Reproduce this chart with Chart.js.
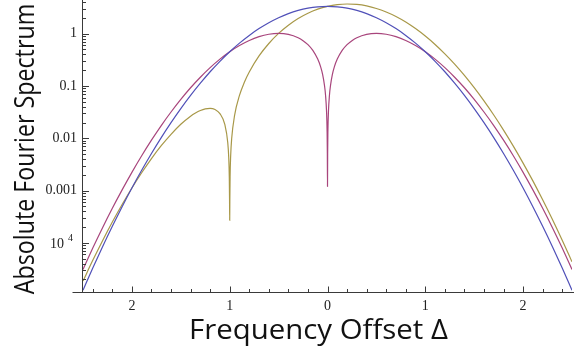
<!DOCTYPE html>
<html>
<head>
<meta charset="utf-8">
<script src="https://cdn.jsdelivr.net/npm/chart.js@4"></script>
<style>
  html, body { margin: 0; padding: 0; background: #fff; }
  #wrap { width: 574px; height: 352px; position: relative; }
</style>
</head>
<body>
<div id="wrap"><canvas id="spectrumChart"></canvas></div>
<script>
const delta = [-2.5, -2.4, -2.3, -2.2, -2.1, -2.0, -1.9, -1.8, -1.7, -1.6, -1.5, -1.4, -1.3, -1.2, -1.1,
  -1.0, -0.9, -0.8, -0.7, -0.6, -0.5, -0.4, -0.3, -0.2, -0.1, 0, 0.1, 0.2, 0.3, 0.4, 0.5, 0.6, 0.7,
  0.8, 0.9, 1.0, 1.1, 1.2, 1.3, 1.4, 1.5, 1.6, 1.7, 1.8, 1.9, 2.0, 2.1, 2.2, 2.3, 2.4, 2.5];
const blueSpectrum = [1.24e-5, 3.31e-5, 8.47e-5, 2.08e-4, 4.92e-4, 1.12e-3, 2.44e-3, 5.11e-3, 0.0103,
  0.0199, 0.0370, 0.0661, 0.113, 0.187, 0.296, 0.451, 0.659, 0.926, 1.25, 1.62, 2.02, 2.42, 2.78,
  3.07, 3.26, 3.33, 3.26, 3.07, 2.78, 2.42, 2.02, 1.62, 1.25, 0.926, 0.659, 0.451, 0.296, 0.187,
  0.113, 0.0661, 0.0370, 0.0199, 0.0103, 5.11e-3, 2.44e-3, 1.12e-3, 4.92e-4, 2.08e-4, 8.47e-5,
  3.31e-5, 1.24e-5];

const deltaMagenta = [-2.5, -2.4, -2.3, -2.2, -2.1, -2.0, -1.9, -1.8, -1.7, -1.6, -1.5, -1.4, -1.3,
  -1.2, -1.1, -1.0, -0.9, -0.8, -0.7, -0.6, -0.5, -0.4, -0.3, -0.25, -0.2, -0.15, -0.1, -0.07, -0.05,
  -0.03, -0.02, -0.01, -0.004, -0.0015, 0, 0.0015, 0.004, 0.01, 0.02, 0.03, 0.05, 0.07, 0.1, 0.15,
  0.2, 0.25, 0.3, 0.4, 0.5, 0.6, 0.7, 0.8, 0.9, 1.0, 1.1, 1.2, 1.3, 1.4, 1.5, 1.6, 1.7, 1.8, 1.9,
  2.0, 2.1, 2.2, 2.3, 2.4, 2.5];
const magentaSpectrum = [3.10e-5, 7.94e-5, 1.95e-4, 4.58e-4, 1.03e-3, 2.23e-3, 4.63e-3, 9.19e-3,
  0.0175, 0.0318, 0.0555, 0.0925, 0.147, 0.224, 0.326, 0.451, 0.593, 0.741, 0.875, 0.973, 1.01,
  0.967, 0.835, 0.735, 0.615, 0.478, 0.326, 0.231, 0.166, 0.0997, 0.0666, 0.0333, 0.0133, 0.0050,
  0.0012, 0.0050, 0.0133, 0.0333, 0.0666, 0.0997, 0.166, 0.231, 0.326, 0.478, 0.615, 0.735, 0.835,
  0.967, 1.01, 0.973, 0.875, 0.741, 0.593, 0.451, 0.326, 0.224, 0.147, 0.0925, 0.0555, 0.0318,
  0.0175, 9.19e-3, 4.63e-3, 2.23e-3, 1.03e-3, 4.58e-4, 1.95e-4, 7.94e-5, 3.10e-5];

const deltaOlive = [-2.5, -2.4, -2.3, -2.2, -2.1, -2.0, -1.9, -1.8, -1.7, -1.6, -1.5, -1.4, -1.35,
  -1.3, -1.25, -1.2, -1.15, -1.1, -1.05, -1.02, -1.01, -1.004, -1.0015, -1.0, -0.9985, -0.996,
  -0.99, -0.98, -0.95, -0.9, -0.85, -0.8, -0.7, -0.6, -0.5, -0.4, -0.3, -0.2, -0.1, 0, 0.1, 0.2,
  0.3, 0.4, 0.5, 0.6, 0.7, 0.8, 0.9, 1.0, 1.1, 1.2, 1.3, 1.4, 1.5, 1.6, 1.7, 1.8, 1.9, 2.0, 2.1,
  2.2, 2.3, 2.4, 2.5];
const oliveSpectrum = [1.86e-5, 4.63e-5, 1.10e-4, 2.50e-4, 5.41e-4, 1.12e-3, 2.19e-3, 4.09e-3,
  7.20e-3, 0.0119, 0.0185, 0.0264, 0.0304, 0.0340, 0.0366, 0.0374, 0.0355, 0.0296, 0.0184, 8.31e-3,
  4.33e-3, 1.77e-3, 6.7e-4, 2.7e-4, 6.8e-4, 1.83e-3, 4.69e-3, 9.76e-3, 0.0274, 0.0659, 0.118,
  0.185, 0.375, 0.648, 1.01, 1.45, 1.95, 2.46, 2.94, 3.33, 3.59, 3.69, 3.62, 3.39, 3.03, 2.59,
  2.13, 1.67, 1.25, 0.901, 0.622, 0.411, 0.261, 0.159, 0.0925, 0.0517, 0.0278, 0.0143, 7.07e-3,
  3.35e-3, 1.53e-3, 6.66e-4, 2.79e-4, 1.12e-4, 4.34e-5];

const xTickValues = [-2, -1, 0, 1, 2];
const xTickLabels = ['2', '1', '0', '1', '2'];
const yTickValues = [1, 0.1, 0.01, 0.001, 0.0001];
const yTickLabels = ['1', '0.1', '0.01', '0.001', '10 4'];

const toPoints = (xs, ys) => xs.map((x, i) => ({ x, y: ys[i] }));

const tickFont = { family: '"Liberation Serif", "DejaVu Serif", serif', size: 14 };
const titleFont = '28px "Open Sans", "DejaVu Sans", sans-serif';

// Mathematica style axes: inward ticks, minor ticks, titles, superscript label
const mmaAxes = {
  id: 'mmaAxes',
  afterDatasetsDraw(chart) {
    const { ctx, chartArea: a, scales: { x, y } } = chart;
    ctx.save();
    ctx.strokeStyle = '#3a3a3a';
    ctx.lineWidth = 1;
    ctx.beginPath();
    const ax = Math.round(a.left) - 0.5;
    const ay = Math.round(a.bottom) + 0.5;
    ctx.moveTo(ax - 10, ay); ctx.lineTo(chart.width, ay);
    ctx.moveTo(ax, 0); ctx.lineTo(ax, ay);
    // x ticks
    for (let i = -12; i <= 12; i++) {
      const v = i / 5;
      const px = Math.round(x.getPixelForValue(v)) + 0.5;
      const len = i % 5 === 0 ? 6 : 3.5;
      ctx.moveTo(px, ay); ctx.lineTo(px, ay - len);
    }
    // y ticks (log, with minor ticks)
    for (let n = -5; n <= 0; n++) {
      for (let k = 1; k <= 9; k++) {
        const v = k * Math.pow(10, n);
        if (v < y.min || v > y.max) continue;
        const py = Math.round(y.getPixelForValue(v)) + 0.5;
        const len = k === 1 ? 6.5 : 3.5;
        ctx.moveTo(ax, py); ctx.lineTo(ax + len, py);
      }
    }
    ctx.stroke();

    // superscript tick label (10 4)
    ctx.fillStyle = '#222';
    yTickLabels.forEach((lab, i) => {
      if (!lab.includes(' ')) return;
      const [base, exp] = lab.split(' ');
      const py = y.getPixelForValue(yTickValues[i]);
      ctx.font = '14px "Liberation Serif", serif';
      ctx.textAlign = 'right';
      ctx.textBaseline = 'middle';
      ctx.fillText(base, 64, py + 1);
      ctx.font = '10px "Liberation Serif", serif';
      ctx.textAlign = 'left';
      ctx.fillText(exp, 68, py - 4);
    });

    // axis titles
    ctx.fillStyle = '#111';
    ctx.font = titleFont;
    ctx.textAlign = 'center';
    ctx.textBaseline = 'alphabetic';
    ctx.save();
    ctx.translate(318.5, 339);
    ctx.scale(1.05, 1);
    ctx.fillText('Frequency Offset Δ', 0, 0);
    ctx.restore();
    ctx.translate(33.5, 149);
    ctx.rotate(-Math.PI / 2);
    ctx.scale(0.83, 1);
    ctx.fillText('Absolute Fourier Spectrum', 0, 0);
    ctx.restore();
  }
};

new Chart(document.getElementById('spectrumChart'), {
  type: 'line',
  data: {
    datasets: [
      {
        label: 'Gaussian',
        data: toPoints(delta, blueSpectrum),
        borderColor: '#5050b8',
        borderWidth: 1.2,
      },
      {
        label: 'First order',
        data: toPoints(deltaMagenta, magentaSpectrum),
        borderColor: '#a8457c',
        borderWidth: 1.2,
      },
      {
        label: 'Shifted',
        data: toPoints(deltaOlive, oliveSpectrum),
        borderColor: '#a89848',
        borderWidth: 1.2,
      },
    ],
  },
  options: {
    responsive: true,
    maintainAspectRatio: false,
    animation: false,
    layout: { padding: { left: 0, right: 2, top: 0, bottom: 0 } },
    elements: {
      point: { radius: 0 },
      line: { cubicInterpolationMode: 'monotone' },
    },
    plugins: { legend: { display: false }, tooltip: { enabled: false } },
    scales: {
      x: {
        type: 'linear',
        min: -2.5,
        max: 2.5,
        grid: { display: false, drawTicks: false },
        border: { display: false },
        afterBuildTicks: (s) => { s.ticks = xTickValues.map((v) => ({ value: v })); },
        afterFit: (s) => { s.height = 60; s.paddingLeft = 0; s.paddingRight = 0; },
        ticks: {
          autoSkip: false,
          maxRotation: 0,
          padding: 6,
          color: '#222',
          font: tickFont,
          callback: (v) => xTickLabels[xTickValues.indexOf(v)],
        },
      },
      y: {
        type: 'logarithmic',
        min: 1.15e-5,
        max: 4.4,
        grid: { display: false, drawTicks: false },
        border: { display: false },
        afterBuildTicks: (s) => { s.ticks = yTickValues.map((v) => ({ value: v })); },
        afterFit: (s) => { s.width = 83; s.paddingTop = 0; s.paddingBottom = 0; },
        ticks: {
          autoSkip: false,
          padding: 6,
          color: '#222',
          font: tickFont,
          callback: (v) => {
            const lab = yTickLabels[yTickValues.indexOf(v)];
            return lab && !lab.includes(' ') ? lab : '';
          },
        },
      },
    },
  },
  plugins: [mmaAxes],
});
</script>
</body>
</html>
